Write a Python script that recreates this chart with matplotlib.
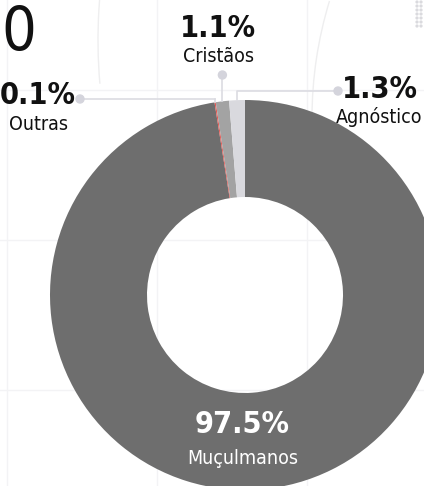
import numpy as np
import matplotlib.pyplot as plt
from matplotlib import font_manager as fm
from matplotlib.patches import Arc, Circle

# religion shares (%)
categories = ["Muçulmanos", "Outras", "Cristãos", "Agnóstico"]
shares = [97.5, 0.1, 1.1, 1.3]
colors = ["#6e6e6e", "#e25a55", "#a3a3a3", "#d9d9de"]

W, H = 424, 486
LINE = "#dcdce2"

# look for a narrow face, the original uses a condensed display font
narrow = [f for f in fm.fontManager.ttflist
          if "condensed" in str(f.stretch).lower() or "Narrow" in f.name
          or "Condensed" in f.name]
pref = ["DejaVu Sans", "Roboto", "Noto Sans", "Open Sans", "Liberation Sans"]
narrow.sort(key=lambda f: pref.index(f.name) if f.name in pref else 99)
if narrow:
    FONT = [narrow[0].name, "DejaVu Sans"]
    STRETCH = "condensed"
    k = 1.0
else:
    FONT = ["DejaVu Sans"]
    STRETCH = "normal"
    k = 0.8

fig = plt.figure(figsize=(W / 100, H / 100), dpi=100)
ax = fig.add_axes([0, 0, 1, 1])

# donut centre / size in pixel units (y measured from the bottom)
cx, cy = 245, H - 295
R, ring = 195, 97

# faint background decoration
for gx in (7, 157, 307):
    ax.plot([gx, gx], [0, H], color="#f3f3f5", lw=1, zorder=0)
for gy in (90, 240, 390):
    ax.plot([0, W], [H - gy, H - gy], color="#f3f3f5", lw=1, zorder=0)
ax.add_patch(Arc((600, H - 40), 1004, 1004, theta1=168, theta2=185,
                 color="#eeeeef", lw=1, zorder=0))
ax.add_patch(Arc((712, H - 118), 800, 800, theta1=163, theta2=180,
                 color="#eeeeef", lw=1, zorder=0))
for dy in range(2, 30, 4):
    for dx in (417, 421):
        ax.add_patch(Circle((dx, H - dy), 0.9, color="#dadade", zorder=0))

wedges, _ = ax.pie(shares, colors=colors, startangle=90, counterclock=False,
                   center=(cx, cy), radius=R, frame=True,
                   wedgeprops=dict(width=ring, linewidth=0))


def edge_point(w, r):
    a = np.deg2rad((w.theta1 + w.theta2) / 2)
    return cx + r * np.cos(a), cy + r * np.sin(a)


# Outras: horizontal leader to the left
x0, y0 = edge_point(wedges[1], R)
ax.plot([80, x0], [H - 99, H - 99], color=LINE, lw=1.2, zorder=1)
ax.plot([x0, x0], [H - 99, y0], color=LINE, lw=1.2, zorder=1)
ax.add_patch(Circle((80, H - 99), 4, color="#d4d4dc", zorder=3))

# Cristãos: vertical leader up
x1, y1 = edge_point(wedges[2], R)
ax.plot([x1, x1], [H - 75, y1], color=LINE, lw=1.2, zorder=1)
ax.add_patch(Circle((x1, H - 75), 4, color="#d4d4dc", zorder=3))

# Agnóstico: elbow leader to the right
x2, y2 = edge_point(wedges[3], R)
ax.plot([x2, x2, 338], [y2, H - 91, H - 91], color=LINE, lw=1.2, zorder=1)
ax.add_patch(Circle((338, H - 91), 4, color="#d4d4dc", zorder=3))

labels = {
    "Outras": ((38, 96), (39, 124), "#111111"),
    "Cristãos": ((218, 29), (219, 57), "#111111"),
    "Agnóstico": ((380, 90), (379, 117), "#111111"),
    "Muçulmanos": ((242, 424), (243, 458), "white"),
}
for name, val in zip(categories, shares):
    (px, py), (nx, ny), c = labels[name]
    ax.text(px, H - py, f"{val}%", ha="center", va="center", fontsize=22 * k,
            fontweight="bold", fontstretch=STRETCH, color=c, family=FONT,
            zorder=4)
    ax.text(nx, H - ny, name, ha="center", va="center", fontsize=14 * k,
            fontstretch=STRETCH, color=c, family=FONT, zorder=4)

# clipped title fragment
ax.text(1, H - 50, "0", ha="left", va="baseline", fontsize=44 * k,
        fontstretch=STRETCH, color="#111111", family=FONT, zorder=4)

ax.set_xlim(0, W)
ax.set_ylim(0, H)
ax.set_aspect("auto")
ax.axis("off")

fig.savefig("out.png", dpi=100)
